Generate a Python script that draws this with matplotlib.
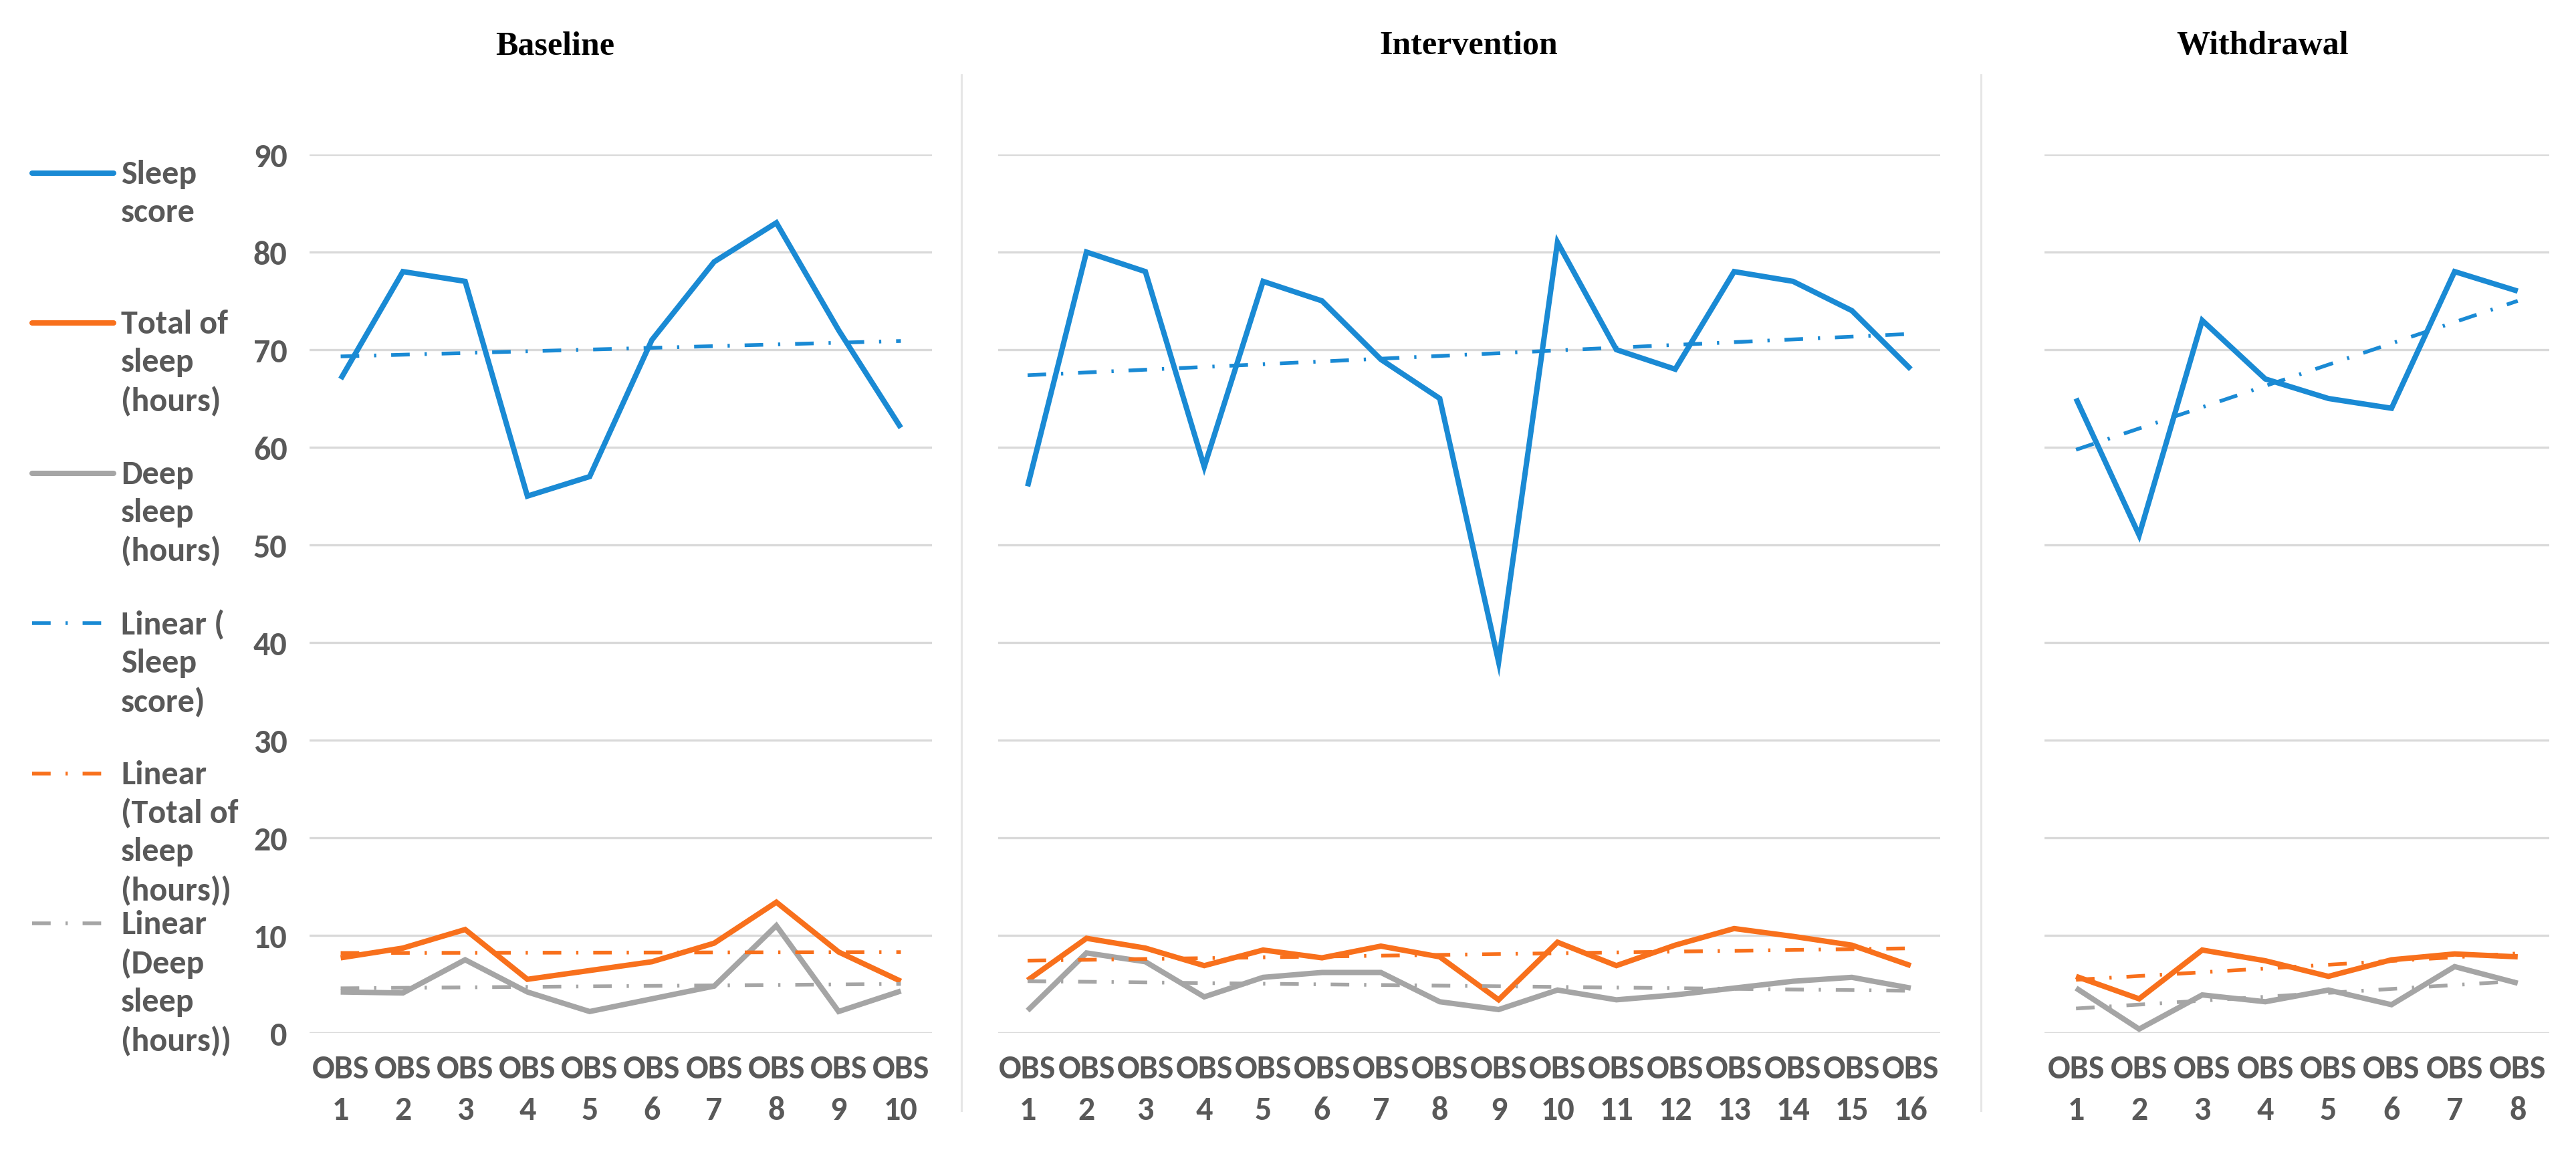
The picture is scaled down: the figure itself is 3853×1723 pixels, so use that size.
"""
Sleep score / total sleep / deep sleep across Baseline, Intervention and
Withdrawal phases, with linear trend lines (Excel-style single-case chart).
"""

import matplotlib.pyplot as plt
import numpy as np
from matplotlib.lines import Line2D

plt.rcParams["font.family"] = ["Carlito", "Liberation Sans Narrow", "Lato", "DejaVu Sans"]

PHASES = ["Baseline", "Intervention", "Withdrawal"]

BASELINE_SCORE = [67, 78, 77, 55, 57, 71, 79, 83, 72, 62]
BASELINE_TOTAL = [7.7, 8.7, 10.6, 5.5, 6.4, 7.3, 9.2, 13.4, 8.3, 5.3]
BASELINE_DEEP  = [4.2, 4.1, 7.5, 4.2, 2.2, 3.5, 4.8, 11.0, 2.2, 4.3]

INTERVENTION_SCORE = [56, 80, 78, 58, 77, 75, 69, 65, 38, 81, 70, 68, 78, 77, 74, 68]
INTERVENTION_TOTAL = [5.4, 9.7, 8.7, 6.9, 8.5, 7.7, 8.9, 7.8, 3.4, 9.3, 6.9, 9.0, 10.7, 9.9, 9.0, 6.9]
INTERVENTION_DEEP  = [2.3, 8.2, 7.3, 3.7, 5.7, 6.2, 6.2, 3.2, 2.4, 4.4, 3.4, 3.9, 4.6, 5.3, 5.7, 4.6]

WITHDRAWAL_SCORE = [65, 51, 73, 67, 65, 64, 78, 76]
WITHDRAWAL_TOTAL = [5.8, 3.5, 8.5, 7.4, 5.8, 7.5, 8.1, 7.8]
WITHDRAWAL_DEEP  = [4.6, 0.4, 3.9, 3.2, 4.4, 2.9, 6.8, 5.1]

Y_TICKS = [0, 10, 20, 30, 40, 50, 60, 70, 80, 90]

LEGEND_LABELS = [
    "Sleep\nscore",
    "Total of\nsleep\n(hours)",
    "Deep\nsleep\n(hours)",
    "Linear (\nSleep\nscore)",
    "Linear\n(Total of\nsleep\n(hours))",
    "Linear\n(Deep\nsleep\n(hours))",
]

BLUE   = "#1a8ad4"
ORANGE = "#f8701c"
GRAY   = "#a5a5a5"
TEXT   = "#595959"
GRID   = "#d9d9d9"

W, H = 3853, 1724
SERIES_LW = 5.8
TREND_LW = 4.0
TREND_DASH = (5.0, 4.0, 0.6, 4.0)
GRAY_FS = 36

# axes boxes in pixels: (left, right)
AX_X = [(463, 1394), (1493, 2902), (3058, 3813)]
AX_TOP, AX_BOTTOM = 232, 1546
TITLE_X = [830, 2197, 3384]
SEPARATORS = [1438, 2963]


def fx(px):
    return px / W


def fy(py):
    return 1 - py / H


fig = plt.figure(figsize=(W / 100, H / 100), dpi=100)

phase_data = [
    (BASELINE_SCORE, BASELINE_TOTAL, BASELINE_DEEP),
    (INTERVENTION_SCORE, INTERVENTION_TOTAL, INTERVENTION_DEEP),
    (WITHDRAWAL_SCORE, WITHDRAWAL_TOTAL, WITHDRAWAL_DEEP),
]

for i, (name, series) in enumerate(zip(PHASES, phase_data)):
    left, right = AX_X[i]
    ax = fig.add_axes([fx(left), fy(AX_BOTTOM), fx(right - left),
                       (AX_BOTTOM - AX_TOP) / H])
    n = len(series[0])
    x = np.arange(1, n + 1)

    for vals, color in zip(series, [BLUE, ORANGE, GRAY]):
        ax.plot(x, vals, color=color, lw=SERIES_LW, solid_joinstyle="miter",
                solid_capstyle="butt", zorder=3)
    for vals, color in zip(series, [BLUE, ORANGE, GRAY]):
        slope, icpt = np.polyfit(x, vals, 1)
        ax.plot(x, slope * x + icpt, color=color, lw=TREND_LW,
                dashes=TREND_DASH, zorder=4)

    ax.set_xlim(0.5, n + 0.5)
    ax.set_ylim(0, 90)
    ax.set_yticks(Y_TICKS)
    ax.set_xticks(x)
    ax.set_xticklabels([f"OBS\n{k}" for k in x], fontsize=GRAY_FS,
                       fontweight="bold", color=TEXT, linespacing=1.5)
    if i == 0:
        ax.set_yticklabels([str(t) for t in Y_TICKS], fontsize=GRAY_FS,
                           fontweight="bold", color=TEXT)
    else:
        ax.set_yticklabels([])
    ax.tick_params(axis="both", length=0)
    ax.tick_params(axis="y", pad=24)
    ax.tick_params(axis="x", pad=22)
    ax.grid(axis="y", color=GRID, lw=2.4, zorder=0)
    ax.set_axisbelow(True)
    for sp in ax.spines.values():
        sp.set_visible(False)

    fig.text(fx(TITLE_X[i]), fy(69), name, ha="center", va="center",
             fontsize=36, fontweight="bold", family="Liberation Serif")

# vertical separators between phases
for sx in SEPARATORS:
    fig.add_artist(Line2D([fx(sx), fx(sx)], [fy(113), fy(1662)],
                          transform=fig.transFigure, color="#e6e6e6", lw=2.2))

# legend on the left, fixed slot per entry like Excel
styles = [
    (BLUE, SERIES_LW, None), (ORANGE, SERIES_LW, None), (GRAY, SERIES_LW, None),
    (BLUE, TREND_LW, TREND_DASH), (ORANGE, TREND_LW, TREND_DASH),
    (GRAY, TREND_LW, TREND_DASH),
]
for k, (label, (color, lw, dash)) in enumerate(zip(LEGEND_LABELS, styles)):
    yp = 260 + k * 224.4
    line = Line2D([fx(48), fx(170)], [fy(yp), fy(yp)], transform=fig.transFigure,
                  color=color, lw=lw, solid_capstyle="round")
    if dash:
        line.set_dashes(dash)
    fig.add_artist(line)
    fig.text(fx(181), fy(yp - 21), label, ha="left", va="top",
             fontsize=GRAY_FS, fontweight="bold", color=TEXT, linespacing=1.36)

fig.savefig("out.png", dpi=100, facecolor="white")
